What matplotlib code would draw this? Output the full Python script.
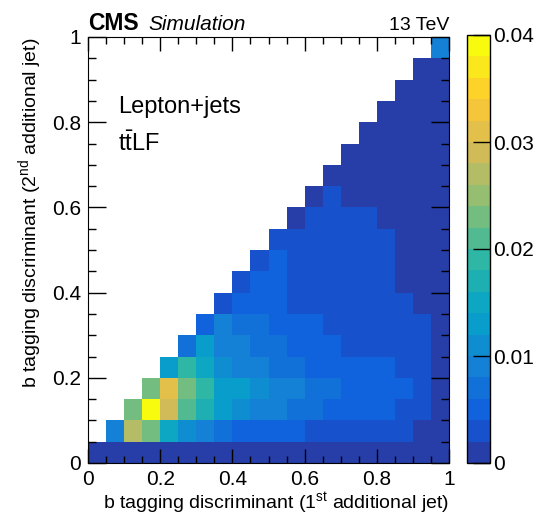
import numpy as np
import matplotlib
matplotlib.use("Agg")
import matplotlib.pyplot as plt
from matplotlib.colors import LinearSegmentedColormap, ListedColormap, BoundaryNorm
from matplotlib.ticker import MultipleLocator, FormatStrFormatter

plt.rcParams['font.family'] = ['Liberation Sans', 'DejaVu Sans']
plt.rcParams['mathtext.fontset'] = 'custom'
plt.rcParams['mathtext.rm'] = 'Liberation Sans'
plt.rcParams['mathtext.it'] = 'Liberation Sans:italic'
plt.rcParams['mathtext.bf'] = 'Liberation Sans:bold'

# bin edges of both discriminants
x_edges = np.linspace(0, 1, 21)
y_edges = np.linspace(0, 1, 21)

# bin contents in units of 1e-3, row = 2nd jet bin (bottom to top), 0 = empty
content = [
    [1, 1, 1, 1, 1, 1, 1, 1, 1, 1, 1, 1, 1, 1, 1, 1, 1, 1, 1, 1],
    [0, 9, 27, 23, 15, 11, 9, 7, 5, 5, 5, 5, 3, 3, 3, 3, 3, 3, 1, 1],
    [0, 0, 23, 39, 29, 21, 17, 13, 11, 9, 9, 7, 7, 5, 5, 5, 5, 3, 3, 1],
    [0, 0, 0, 23, 31, 23, 19, 13, 13, 11, 9, 9, 7, 7, 5, 5, 5, 5, 3, 1],
    [0, 0, 0, 0, 13, 19, 15, 11, 9, 9, 7, 7, 5, 5, 5, 5, 5, 3, 3, 1],
    [0, 0, 0, 0, 0, 7, 13, 9, 9, 7, 7, 5, 5, 5, 3, 3, 3, 3, 3, 1],
    [0, 0, 0, 0, 0, 0, 5, 9, 7, 7, 5, 5, 5, 3, 3, 3, 3, 3, 3, 1],
    [0, 0, 0, 0, 0, 0, 0, 3, 5, 5, 5, 3, 3, 3, 3, 3, 3, 3, 1, 1],
    [0, 0, 0, 0, 0, 0, 0, 0, 3, 5, 5, 3, 3, 3, 3, 3, 3, 1, 1, 1],
    [0, 0, 0, 0, 0, 0, 0, 0, 0, 3, 5, 3, 3, 3, 3, 3, 3, 1, 1, 1],
    [0, 0, 0, 0, 0, 0, 0, 0, 0, 0, 3, 3, 3, 3, 3, 3, 3, 1, 1, 1],
    [0, 0, 0, 0, 0, 0, 0, 0, 0, 0, 0, 1, 3, 3, 3, 3, 1, 1, 1, 1],
    [0, 0, 0, 0, 0, 0, 0, 0, 0, 0, 0, 0, 1, 3, 1, 1, 1, 1, 1, 1],
    [0, 0, 0, 0, 0, 0, 0, 0, 0, 0, 0, 0, 0, 1, 1, 1, 1, 1, 1, 1],
    [0, 0, 0, 0, 0, 0, 0, 0, 0, 0, 0, 0, 0, 0, 1, 1, 1, 1, 1, 1],
    [0, 0, 0, 0, 0, 0, 0, 0, 0, 0, 0, 0, 0, 0, 0, 1, 1, 1, 1, 1],
    [0, 0, 0, 0, 0, 0, 0, 0, 0, 0, 0, 0, 0, 0, 0, 0, 1, 1, 1, 1],
    [0, 0, 0, 0, 0, 0, 0, 0, 0, 0, 0, 0, 0, 0, 0, 0, 0, 1, 1, 1],
    [0, 0, 0, 0, 0, 0, 0, 0, 0, 0, 0, 0, 0, 0, 0, 0, 0, 0, 1, 1],
    [0, 0, 0, 0, 0, 0, 0, 0, 0, 0, 0, 0, 0, 0, 0, 0, 0, 0, 0, 9],
]

z = np.array(content, dtype=float) * 1e-3
z = np.ma.masked_where(z <= 0, z)

# ROOT kBird palette, 20 contour levels
stops = [0.0, 0.125, 0.25, 0.375, 0.5, 0.625, 0.75, 0.875, 1.0]
red = [0.2082, 0.0592, 0.0780, 0.0232, 0.1802, 0.5301, 0.8186, 0.9956, 0.9764]
green = [0.1664, 0.3599, 0.5041, 0.6419, 0.7178, 0.7492, 0.7328, 0.7862, 0.9832]
blue = [0.5293, 0.8684, 0.8385, 0.7914, 0.6425, 0.4662, 0.3499, 0.1968, 0.0539]
bird = LinearSegmentedColormap.from_list(
    "bird", list(zip(stops, zip(red, green, blue))), N=255)
n_levels = 20
cols = [bird(int((i + 0.99) * 255 / n_levels) / 254) for i in range(n_levels)]
cmap = ListedColormap(cols)
levels = np.linspace(0, 0.04, n_levels + 1)
norm = BoundaryNorm(levels, n_levels)

fig = plt.figure(figsize=(5.39, 5.17), dpi=100)
ax = fig.add_axes([88 / 539, 54 / 517, 361 / 539, 426 / 517])
cax = fig.add_axes([467 / 539, 54 / 517, 23 / 539, 428 / 517])

mesh = ax.pcolormesh(x_edges, y_edges, z, cmap=cmap, norm=norm)
ax.set_xlim(0, 1)
ax.set_ylim(0, 1)

for a in (ax.xaxis, ax.yaxis):
    a.set_major_locator(MultipleLocator(0.2))
    a.set_minor_locator(MultipleLocator(0.05))
    a.set_major_formatter(FormatStrFormatter('%g'))
ax.tick_params(which='both', direction='in', top=True, right=True,
               labelsize=15, width=1)
ax.tick_params(axis='x', which='major', length=10, pad=5)
ax.tick_params(axis='x', which='minor', length=5)
ax.tick_params(axis='y', which='major', length=13, pad=5)
ax.tick_params(axis='y', which='minor', length=6)

ax.set_xlabel(r"b tagging discriminant (1$^{\mathrm{st}}$ additional jet)",
              fontsize=14, loc='right', labelpad=1)
ax.set_ylabel(r"b tagging discriminant (2$^{\mathrm{nd}}$ additional jet)",
              fontsize=14, loc='top', labelpad=6)

cb = fig.colorbar(mesh, cax=cax, ticks=[0, 0.01, 0.02, 0.03, 0.04])
cb.ax.yaxis.set_major_formatter(FormatStrFormatter('%g'))
cb.ax.tick_params(direction='in', length=12, labelsize=15, width=1, pad=2)
cb.ax.minorticks_off()
cb.outline.set_linewidth(1)

fig.text(88 / 539, 1 - 30 / 517, "CMS", fontsize=16.5, fontweight='bold',
         ha='left', va='baseline')
fig.text(148 / 539, 1 - 30 / 517, "Simulation", fontsize=15, style='italic',
         ha='left', va='baseline')
fig.text(449 / 539, 1 - 30 / 517, "13 TeV", fontsize=14,
         ha='right', va='baseline')

ax.text(118 / 539, 1 - 113 / 517, "Lepton+jets", fontsize=17,
        transform=fig.transFigure, ha='left', va='baseline')
ax.text(118 / 539, 1 - 151 / 517, r"t$\bar{\mathrm{t}}$LF", fontsize=17,
        transform=fig.transFigure, ha='left', va='baseline')

fig.savefig("out.png", dpi=100)
